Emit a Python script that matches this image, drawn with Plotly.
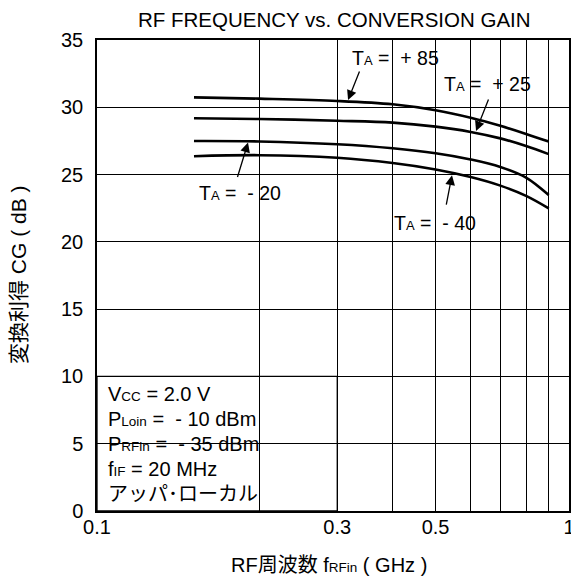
import numpy as np
import plotly.graph_objects as go

# ---------------- data ----------------
freq_ghz = [0.1425, 0.2, 0.3, 0.4, 0.5, 0.6, 0.7, 0.8, 0.9]
gain_ta_p85 = [30.74, 30.64, 30.47, 30.22, 29.78, 29.22, 28.62, 28.02, 27.45]
gain_ta_p25 = [29.18, 29.13, 29.00, 28.86, 28.56, 28.17, 27.69, 27.12, 26.52]
gain_ta_m20 = [27.49, 27.46, 27.25, 26.95, 26.58, 26.12, 25.57, 24.78, 23.48]
gain_ta_m40 = [26.36, 26.44, 26.25, 25.86, 25.38, 24.82, 24.18, 23.42, 22.49]

x_tick_labels = ["0.1", "0.3", "0.5", "1"]
x_tick_values = [0.3, 0.5, 1.0]          # "0.1" sits on the left frame edge
x_grid_values = [0.2, 0.3, 0.4, 0.5, 0.6, 0.7, 0.8, 0.9]
y_tick_values = [0, 5, 10, 15, 20, 25, 30, 35]

# ---------------- layout helpers ----------------
W, H = 571, 581
RL, RR, RT, RB = 97, 569, 40, 511       # plot frame in reference pixels
XR = [-1.065, 0.0]  # log10 range of the x axis as drawn in the reference
FONT = "Liberation Sans, Arial, Noto Sans CJK JP, sans-serif"


def sub(t, size=13.5):
    return "<span style='font-size:%spx'>%s</span>" % (size, t)


def px(xp):
    return (xp - RL) / (RR - RL)


def py(yp):
    return (RB - yp) / (RB - RT)


def xpaper(f):
    return (np.log10(f) - XR[0]) / (XR[1] - XR[0])


fig = go.Figure()
for g in [gain_ta_p85, gain_ta_p25, gain_ta_m20, gain_ta_m40]:
    fig.add_trace(go.Scatter(x=freq_ghz, y=g, mode="lines",
                             line=dict(color="black", width=2.6, shape="spline", smoothing=1.0),
                             hoverinfo="skip"))

shapes = []
# condition box in lower-left (covers the grid there)
shapes.append(dict(type="rect", xref="paper", yref="y", x0=0, x1=xpaper(0.3), y0=0, y1=10,
                   fillcolor="white", line=dict(color="black", width=1.3), layer="between"))
# label masks
for (x0, x1, y0, y1) in [(458, 556, 70, 93), (200, 290, 180, 202), (396, 505, 212, 233)]:
    shapes.append(dict(type="rect", xref="paper", yref="paper", x0=px(x0), x1=px(x1),
                       y0=py(y1), y1=py(y0), fillcolor="white", line=dict(width=0), layer="between"))

ann = []
ann.append(dict(text="RF FREQUENCY vs. CONVERSION GAIN", xref="paper", yref="paper",
                x=px(334), y=py(19), xanchor="center", yanchor="middle", showarrow=False,
                font=dict(size=20.5)))
ann.append(dict(text="RF周波数 f" + sub("RFin") + " ( GHz )", xref="paper", yref="paper",
                x=px(329), y=py(565), xanchor="center", yanchor="middle", showarrow=False,
                font=dict(size=20)))
ann.append(dict(text="変換利得 CG ( dB )", xref="paper", yref="paper", textangle=-90,
                x=px(18), y=py(275), xanchor="center", yanchor="middle", showarrow=False,
                font=dict(size=21)))

# temperature labels
TA = "T" + sub("A", 13)
for txt, xl, yc in [(TA + " =  + 85", 350, 58), (TA + " =  + 25", 442, 84),
                    (TA + " =  - 20", 197, 193), (TA + " =  - 40", 392, 223)]:
    ann.append(dict(text=txt, xref="paper", yref="paper", x=px(xl), y=py(yc),
                    xanchor="left", yanchor="middle", showarrow=False, font=dict(size=19.5)))

# arrows (tip on the curve, tail offset in pixels)
for f, v, ax, ay in [(0.3173, 30.54, 12, -30), (0.617, 28.24, 13, -33),
                     (0.1887, 27.38, -11, 36), (0.5445, 24.95, -6, 31)]:
    ann.append(dict(text="", x=np.log10(f), y=v, xref="x", yref="y", ax=ax, ay=ay,
                    showarrow=True, arrowhead=2, arrowsize=1.5, arrowwidth=1.3,
                    arrowcolor="black", standoff=0))

# condition text
cond = ["V" + sub("CC") + " = 2.0 V",
        "P" + sub("Loin") + " =  - 10 dBm",
        "P" + sub("RFin") + " =  - 35 dBm",
        "f" + sub("IF") + " = 20 MHz",
        "アッパ･ローカル"]
for i, txt in enumerate(cond):
    ann.append(dict(text=txt, xref="paper", yref="paper", x=px(106), y=py(394 + 25 * i),
                    xanchor="left", yanchor="middle", showarrow=False, font=dict(size=20)))

fig.update_layout(
    width=W, height=H,
    margin=dict(l=RL, r=W - RR, t=RT, b=H - RB, autoexpand=False),
    paper_bgcolor="white", plot_bgcolor="white", showlegend=False,
    font=dict(family=FONT, size=20, color="black"),
    shapes=shapes, annotations=ann,
    xaxis=dict(type="log", range=XR, tickmode="array",
               tickvals=[10 ** XR[0]] + x_tick_values, ticktext=x_tick_labels,
               showgrid=False, zeroline=False, ticks="",
               minor=dict(tickmode="array", tickvals=x_grid_values, showgrid=True,
                          gridcolor="black", gridwidth=1.3, ticks=""),
               showline=True, linecolor="black", linewidth=1.5, mirror=True,
               tickfont=dict(size=20), automargin=False, ticklabelstandoff=-3,
               ticklabeloverflow="allow"),
    yaxis=dict(range=[0, 35], tickmode="array", tickvals=y_tick_values,
               showgrid=True, gridcolor="black", gridwidth=1.3, zeroline=False, ticks="",
               showline=True, linecolor="black", linewidth=1.5, mirror=True,
               tickfont=dict(size=20), automargin=False, ticklabelstandoff=8,
               ticklabeloverflow="allow"),
)

# remove the default 8px page margin so the figure fills the 571x581 window exactly
fig.write_html("out.html", config={"displayModeBar": False},
               post_script="document.body.style.margin='0';document.body.style.overflow='hidden';")
